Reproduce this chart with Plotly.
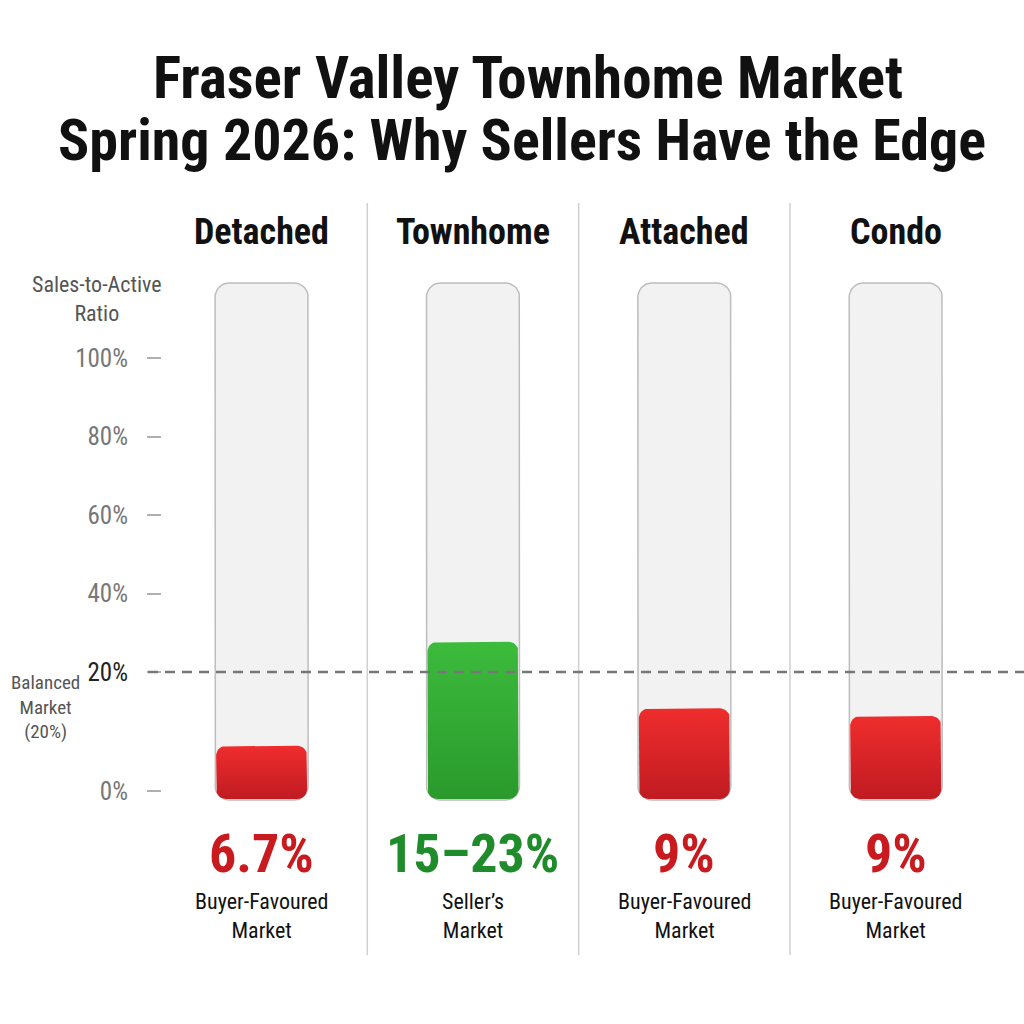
import numpy as np
import plotly.graph_objects as go

# ---------------- data ----------------
categories = ["Detached", "Townhome", "Attached", "Condo"]
# bar heights (%)
ratio_values = [7.6, 27.7, 13.9, 12.6]
value_labels = ["6.7%", "15–23%", "9%", "9%"]
market_labels = ["Buyer-Favoured<br>Market", "Seller’s<br>Market",
                 "Buyer-Favoured<br>Market", "Buyer-Favoured<br>Market"]
market_type = ["buyer", "seller", "buyer", "buyer"]
tick_values = [0, 20, 40, 60, 80, 100]
tick_labels = ["0%", "20%", "40%", "60%", "80%", "100%"]
balanced_threshold = 20

# ---------------- styling ----------------
FONT = "Liberation Sans Narrow, Roboto Condensed, Arial Narrow, Liberation Sans, sans-serif"
RED_SCALE = [[0, "#c01b22"], [1, "#ef2d2d"]]
GREEN_SCALE = [[0, "#2a9a2c"], [1, "#3cbb3c"]]
RED_TEXT = "#c91b1f"
GREEN_TEXT = "#1f8b2b"

W = H = 1024
PX_PER_X = 211.35          # horizontal pixels per category step
X_RANGE = [-1.2378, 3.607]
ZERO_PX = 791              # pixel row of the 0% tick
Y_RANGE = [ZERO_PX - H, ZERO_PX]


def scale(v):
    """Broken sales-to-active scale: 0-20% stretched, 20-100% compressed."""
    v = np.asarray(v, dtype=float)
    return np.where(v <= 20, v * 119 / 20, 119 + (v - 20) * 314 / 80)


def rounded_rect(xc, half_w_px, y0, y1, r_px, n=10):
    k = 1.0 / PX_PER_X
    hx = (half_w_px - r_px) * k
    corners = [(xc + hx, y0 + r_px, -90, 0), (xc + hx, y1 - r_px, 0, 90),
               (xc - hx, y1 - r_px, 90, 180), (xc - hx, y0 + r_px, 180, 270)]
    xs, ys = [], []
    for cx, cy, a0, a1 in corners:
        t = np.radians(np.linspace(a0, a1, n))
        xs += list(cx + r_px * k * np.cos(t))
        ys += list(cy + r_px * np.sin(t))
    xs.append(xs[0]); ys.append(ys[0])
    return xs, ys


TUBE_TOP = float(scale(100)) + 75      # tube extends above the 100% mark
TUBE_BOTTOM = -9
BAR_BOTTOM = -8

fig = go.Figure()

# tubes (background tracks)
for i, cat in enumerate(categories):
    xs, ys = rounded_rect(i, 46.5, TUBE_BOTTOM, TUBE_TOP, 14)
    fig.add_trace(go.Scatter(x=xs, y=ys, mode="lines", fill="toself",
                             fillcolor="#f2f2f2",
                             line=dict(color="#bdbdbd", width=1.5),
                             hoverinfo="skip", showlegend=False))

# value bars
for i, (cat, v, mt) in enumerate(zip(categories, ratio_values, market_type)):
    top = float(scale(v))
    xs, ys = rounded_rect(i, 45.5, BAR_BOTTOM, top, 10)
    fig.add_trace(go.Scatter(
        x=xs, y=ys, mode="lines", fill="toself", name=cat,
        line=dict(width=0, color="rgba(0,0,0,0)"),
        fillgradient=dict(type="vertical",
                          colorscale=GREEN_SCALE if mt == "seller" else RED_SCALE),
        hovertemplate=f"{cat}: {v}%<extra></extra>", showlegend=False))

annotations = []
C = dict(xanchor="center", yanchor="middle", showarrow=False)
# title lines
annotations.append(dict(text="<b>Fraser Valley Townhome Market</b>", xref="paper", yref="paper",
                        x=528 / W, y=1 - 77 / H,
                        font=dict(family=FONT, size=59, color="#111111"), **C))
annotations.append(dict(text="<b>Spring 2026: Why Sellers Have the Edge</b>", xref="paper", yref="paper",
                        x=522 / W, y=1 - 140 / H,
                        font=dict(family=FONT, size=58, color="#111111"), **C))

for i, cat in enumerate(categories):
    annotations.append(dict(text=f"<b>{cat}</b>", x=i, y=ZERO_PX - 232, xref="x", yref="y",
                            font=dict(family=FONT, size=36, color="#111111"), **C))
    color = GREEN_TEXT if market_type[i] == "seller" else RED_TEXT
    annotations.append(dict(text=f"<b>{value_labels[i]}</b>", x=i, y=ZERO_PX - 853, xref="x", yref="y",
                            font=dict(family=FONT, size=54, color=color), **C))
    annotations.append(dict(text=market_labels[i], x=i, y=ZERO_PX - 916, xref="x", yref="y",
                            font=dict(family=FONT, size=22, color="#111111"), **C))

annotations.append(dict(text="Sales-to-Active<br>Ratio", xref="paper", yref="y",
                        x=97 / W, y=ZERO_PX - 299,
                        font=dict(family=FONT, size=22, color="#555555"), **C))
annotations.append(dict(text="Balanced<br>Market<br>(20%)", xref="paper", yref="y",
                        x=45 / W, y=ZERO_PX - 707,
                        font=dict(family=FONT, size=19, color="#555555"), **C))

shapes = []
# column dividers
for i in range(len(categories) - 1):
    shapes.append(dict(type="line", xref="x", yref="y", x0=i + 0.5, x1=i + 0.5,
                       y0=ZERO_PX - 955, y1=ZERO_PX - 203, layer="below",
                       line=dict(color="#cfcfcf", width=1.5)))
# balanced-market dashed line
bal = float(scale(balanced_threshold))
shapes.append(dict(type="line", xref="paper", yref="y", x0=148 / W, x1=1,
                   y0=bal, y1=bal, layer="above",
                   line=dict(color="#777777", width=2.5, dash="10px,7px")))

tick_text = [f'<span style="color:#222222">{t}</span>' if v == balanced_threshold else t
             for v, t in zip(tick_values, tick_labels)]

fig.update_layout(
    width=W, height=H, margin=dict(l=0, r=0, t=0, b=0),
    paper_bgcolor="white", plot_bgcolor="white",
    xaxis=dict(range=X_RANGE, visible=False, fixedrange=True),
    yaxis=dict(range=Y_RANGE, anchor="free", position=161 / W, side="left",
               tickmode="array", tickvals=[float(scale(v)) for v in tick_values],
               ticktext=tick_text, ticks="outside", ticklen=14, tickwidth=2,
               tickcolor="#b0b0b0", showgrid=False, zeroline=False, showline=False,
               ticklabelstandoff=14,
               tickfont=dict(family=FONT, size=25, color="#777777"), fixedrange=True),
    annotations=annotations, shapes=shapes, showlegend=False,
)

fig.write_html("out.html", config={"displayModeBar": False},
               post_script="document.body.style.margin='0';")
